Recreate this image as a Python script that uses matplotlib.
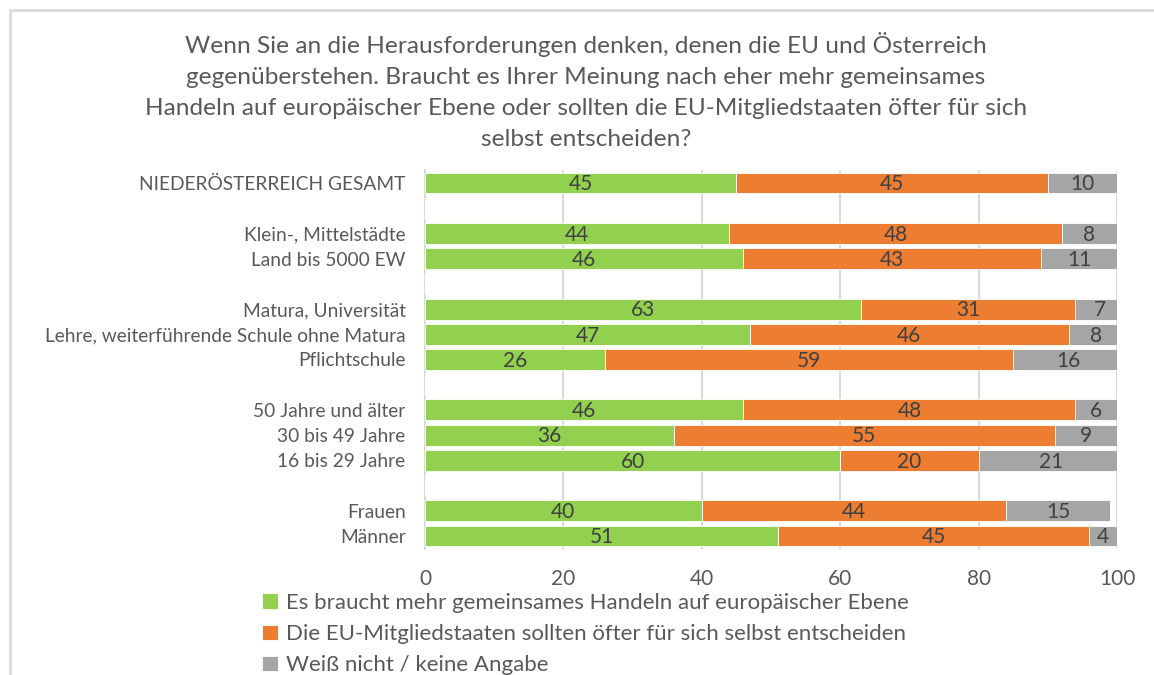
import numpy as np
import matplotlib
matplotlib.use("Agg")
import matplotlib.pyplot as plt
from matplotlib.patches import Rectangle

plt.rcParams['font.family'] = ['Lato', 'DejaVu Sans']

categories = ["NIEDERÖSTERREICH GESAMT", "",
              "Klein-, Mittelstädte", "Land bis 5000 EW", "",
              "Matura, Universität", "Lehre, weiterführende Schule ohne Matura", "Pflichtschule", "",
              "50 Jahre und älter", "30 bis 49 Jahre", "16 bis 29 Jahre", "",
              "Frauen", "Männer"]
nan = np.nan
mehr_gemeinsam = [45, nan, 44, 46, nan, 63, 47, 26, nan, 46, 36, 60, nan, 40, 51]
selbst_entscheiden = [45, nan, 48, 43, nan, 31, 46, 59, nan, 48, 55, 20, nan, 44, 45]
weiss_nicht = [10, nan, 8, 11, nan, 7, 8, 16, nan, 6, 9, 21, nan, 15, 4]
series_names = ["Es braucht mehr gemeinsames Handeln auf europäischer Ebene",
                "Die EU-Mitgliedstaaten sollten öfter für sich selbst entscheiden",
                "Weiß nicht / keine Angabe"]
colors = ["#92D050", "#ED7D31", "#A5A5A5"]
title = ("Wenn Sie an die Herausforderungen denken, denen die EU und Österreich\n"
         "gegenüberstehen. Braucht es Ihrer Meinung nach eher mehr gemeinsames\n"
         "Handeln auf europäischer Ebene oder sollten die EU-Mitgliedstaaten öfter für sich\n"
         "selbst entscheiden?")
xticks = [0, 20, 40, 60, 80, 100]

fig = plt.figure(figsize=(11.54, 6.75), dpi=100)
ax = fig.add_axes([425/1154, 1-548.6/675, (1117-425)/1154, (548.6-170.4)/675])

y = np.arange(len(categories))
left = np.zeros(len(categories))
data = [np.array(mehr_gemeinsam, float), np.array(selbst_entscheiden, float), np.array(weiss_nicht, float)]
for vals, col, name in zip(data, colors, series_names):
    v = np.nan_to_num(vals)
    ax.barh(y, v, left=left, height=0.83, color=col, label=name,
            edgecolor="white", linewidth=0.6, zorder=3)
    for yi, (l, w, orig) in enumerate(zip(left, v, vals)):
        if not np.isnan(orig):
            ax.text(l + w/2, yi + 0.05, f"{int(orig)}", ha="center", va="center",
                    fontsize=15, color="#404040", zorder=4)
    left = left + v

ax.set_ylim(len(categories) - 0.5, -0.5)
ax.set_xlim(0, 100)
ax.set_yticks(y)
ax.set_yticklabels(categories, fontsize=13.8, color="#595959")
ax.set_xticks(xticks)
ax.set_xticklabels([str(t) for t in xticks], fontsize=15, color="#595959")
ax.tick_params(axis="both", length=0)
ax.tick_params(axis="y", pad=14)
ax.tick_params(axis="x", pad=15)
ax.xaxis.grid(True, color="#D9D9D9", linewidth=1.5, zorder=0)
for s in ["top", "right", "bottom"]:
    ax.spines[s].set_visible(False)
ax.spines["left"].set_color("#D9D9D9")
ax.spines["left"].set_linewidth(1.5)

fig.text(586/1154, 1-32/675, title, ha="center", va="top", fontsize=17.6,
         color="#595959", linespacing=1.58)

handles, labels = ax.get_legend_handles_labels()
leg = fig.legend(handles, labels, loc="upper left", bbox_to_anchor=(262/1154, 1-593/675),
                 frameon=False, fontsize=16, handlelength=0.7, handleheight=0.7,
                 handletextpad=0.4, labelspacing=0.5, borderpad=0, borderaxespad=0)
for t in leg.get_texts():
    t.set_color("#595959")

fig.patches.append(Rectangle((10/1154, -0.1), 1.2, 1-10/675 + 0.1, transform=fig.transFigure,
                             fill=False, edgecolor="#D9D9D9", linewidth=2))

fig.savefig("out.png", dpi=100)
